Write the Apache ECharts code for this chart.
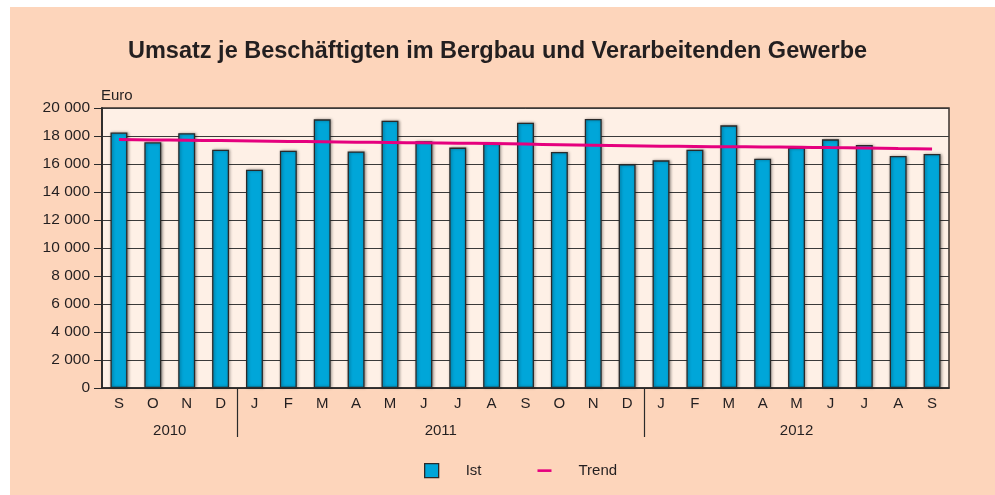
<!DOCTYPE html>
<html>
<head>
<meta charset="utf-8">
<script src="https://cdn.jsdelivr.net/npm/echarts@6/dist/echarts.min.js"></script>
<style>
html,body{margin:0;padding:0;background:#ffffff;}
#chart{position:absolute;left:10px;top:7px;width:985px;height:488px;background:#FDD5BB;}
</style>
</head>
<body>
<div id="chart"></div>
<script>
var months = ['S','O','N','D','J','F','M','A','M','J','J','A','S','O','N','D','J','F','M','A','M','J','J','A','S'];
var years = ['2010','2011','2012'];
var yearCounts = [4,12,9];
var ist = [18250,17550,18200,17020,15590,16950,19190,16900,19090,17620,17170,17480,18950,16860,19210,15980,16260,17020,18760,16380,17170,17760,17360,16570,16710];
var trend = [17750,17720,17700,17670,17640,17610,17590,17560,17540,17510,17490,17460,17420,17380,17340,17300,17270,17250,17230,17220,17200,17170,17140,17100,17070];
var yTicks = [0,2000,4000,6000,8000,10000,12000,14000,16000,18000,20000];

// derived positions of year groups on a value scale matching the category slots
var yearCenters = [], yearBounds = [], acc = 0;
yearCounts.forEach(function(c, i){
  yearCenters.push(acc + c/2 - 0.5);
  acc += c;
  if (i < yearCounts.length - 1) yearBounds.push(acc - 0.5);
});

var font = 'Liberation Sans, Arial, sans-serif';
var txt = '#231f20';
var chart = echarts.init(document.getElementById('chart'));
chart.setOption({
  animation:false,
  title:{
    text:'Umsatz je Beschäftigten im Bergbau und Verarbeitenden Gewerbe',
    left:113, top:28,
    textStyle:{fontFamily:font, fontSize:23.5, fontWeight:'bold', color:txt}
  },
  legend:{
    left:409, top:451,
    itemWidth:14, itemHeight:14, itemGap:56,
    textStyle:{fontFamily:font, fontSize:15, color:txt, padding:[0,0,0,22]},
    data:[
      {name:'Ist', icon:'rect', itemStyle:{color:'#00A6D9', borderColor:'#2a2a2a', borderWidth:1.3}},
      {name:'Trend', icon:'path://M0,0 L16,0 L16,3 L0,3 Z', itemStyle:{color:'#E5007E'}}
    ]
  },
  grid:{left:92, right:46, top:101, bottom:107, show:true, backgroundColor:'#FEF0E6', borderColor:'#3a322e', borderWidth:1.5},
  xAxis:[{
    type:'category', data:months, position:'bottom',
    axisLine:{onZero:false, lineStyle:{color:'#2a2a2a', width:1.5}},
    axisTick:{show:false},
    axisLabel:{fontFamily:font, fontSize:15, color:txt, margin:8, interval:0}
  },{
    type:'value', min:-0.5, max:24.5, position:'bottom',
    axisLine:{show:false, onZero:false}, splitLine:{show:false},
    axisTick:{show:true, customValues:yearBounds, length:49, lineStyle:{color:'#2a2a2a', width:1.2}},
    axisLabel:{fontFamily:font, fontSize:15, color:txt, margin:35, customValues:yearCenters,
      formatter:function(v){ var i = yearCenters.indexOf(v); return i >= 0 ? years[i] : ''; }}
  }],
  yAxis:{
    type:'value', min:0, max:20000, interval:2000,
    name:'Euro', nameLocation:'end', nameGap:5,
    nameTextStyle:{fontFamily:font, fontSize:15, color:txt, align:'left', padding:[0,0,0,-1]},
    axisLine:{show:true, onZero:false, lineStyle:{color:'#2a2a2a', width:1.8}},
    axisTick:{show:true, length:8, lineStyle:{color:'#2a2a2a'}},
    splitLine:{lineStyle:{color:'#3a3a3a', width:1}},
    axisLabel:{fontFamily:font, fontSize:15.5, color:txt, margin:12,
      formatter:function(v){ return yTicks.indexOf(v) >= 0 ? String(v).replace(/\B(?=(\d{3})+(?!\d))/g,' ') : ''; }}
  },
  series:[{
    name:'Ist', type:'bar', data:ist, barCategoryGap:'50%',
    itemStyle:{color:'#00A6D9', borderColor:'#2a2a2a', borderWidth:1.3,
      shadowColor:'rgba(0,0,0,0.4)', shadowBlur:3, shadowOffsetX:1, shadowOffsetY:0}
  },{
    name:'Trend', type:'line', data:trend, smooth:true, showSymbol:false, symbol:'none',
    lineStyle:{color:'#E5007E', width:3}, itemStyle:{color:'#E5007E'}
  }]
});
</script>
</body>
</html>
